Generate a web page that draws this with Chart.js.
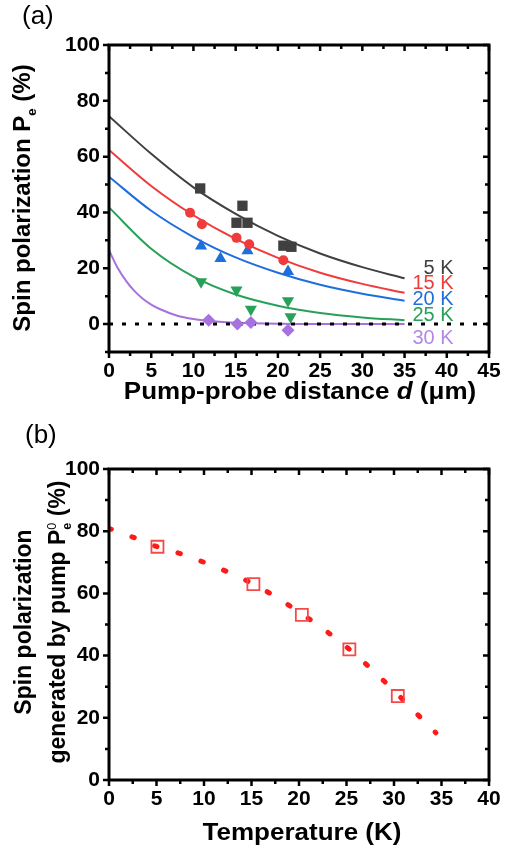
<!DOCTYPE html>
<html>
<head>
<meta charset="utf-8">
<script src="https://cdn.jsdelivr.net/npm/chart.js@4.4.1/dist/chart.umd.min.js"></script>
<style>
  html, body { margin: 0; padding: 0; background: #fff; }
  body { width: 515px; height: 851px; position: relative; overflow: hidden;
         font-family: "Liberation Sans", Arial, sans-serif; color: #000; }
  .wrap { position: absolute; left: 0; width: 515px; }
  .txt { position: absolute; white-space: nowrap; line-height: 1; }
  .title { font-weight: bold; font-size: 23px; }
  .rot { transform: translate(-50%, -50%) rotate(-90deg); text-align: center; }
  .hor { transform: translate(-50%, -50%) scaleX(1.13); }
  .sp { font-size: 0.55em; font-weight: normal; vertical-align: 0.75em; line-height: 0; }
  .sb { font-size: 0.55em; vertical-align: -0.45em; line-height: 0; margin-left: -0.56em; }
</style>
</head>
<body>
<div class="wrap" style="top:0;height:400px"><canvas id="chartA"></canvas></div>
<div class="wrap" style="top:400px;height:451px"><canvas id="chartB"></canvas></div>

<div class="txt" style="left:22px;top:2px;font-size:26px">(a)</div>
<div class="txt" style="left:25px;top:421px;font-size:26px">(b)</div>

<div class="txt title rot" style="left:22px;top:198px;font-size:24px">Spin polarization P<span class="sb" style="margin-left:0">e</span> (%)</div>
<div class="txt title hor" style="left:300px;top:391px">Pump-probe distance <i>d</i> (μm)</div>

<div class="txt title rot" style="left:40px;top:622px;line-height:34px">Spin polarization<br>generated by pump P<span class="sp">0</span><span class="sb">e</span> (%)</div>
<div class="txt title hor" style="left:302px;top:832px">Temperature (K)</div>

<script>
// ---------------- Panel (a) data ----------------
const d5K = [10.8, 15.8, 15.1, 16.4, 20.65, 21.6];
const p5K = [48.6, 42.4, 36.3, 36.3, 28.1, 27.7];
const d15K = [9.6, 11.0, 15.1, 16.6, 20.65];
const p15K = [39.9, 35.8, 30.9, 28.6, 22.9];
const d20K = [10.9, 13.2, 16.4, 21.2];
const p20K = [28.0, 23.5, 26.3, 18.8];
const d25K = [10.9, 15.1, 16.8, 21.2, 21.5];
const p25K = [15.2, 12.2, 5.3, 8.4, 2.6];
const d30K = [11.8, 15.2, 16.8, 21.2];
const p30K = [1.4, 0.0, 0.6, -2.2];

// fit curves
const fitDist = [0, 5, 10, 15, 20, 25, 30, 35];
const fit5K  = [74.5, 61.0, 49.0, 39.5, 31.6, 25.3, 20.4, 16.4];
const fit15K = [62.4, 49.5, 39.0, 30.5, 23.7, 18.4, 14.4, 11.2];
const fit20K = [52.8, 40.6, 31.2, 23.9, 18.4, 14.1, 10.9, 8.4];
const fit25K = [41.8, 27.0, 17.0, 10.6, 6.6, 4.0, 2.4, 1.4];
const fit30KDist = [0, 1, 2, 3, 4, 5, 6, 8, 10, 12, 15, 20, 25, 30, 35];
const fit30K = [26.5, 20.3, 15.6, 11.9, 9.1, 7.0, 5.4, 3.1, 1.8, 1.1, 0.5, 0.1, 0, 0, 0];

const zeroLineX = [0, 45];
const zeroLineY = [0, 0];

const tempLabels = ['5 K', '15 K', '20 K', '25 K', '30 K'];
const tempLabelValueY = [20.1, 14.6, 8.9, 3.2, -5.0];
const tempLabelValueX = 40.8;

const aXTicks = { min: 0, max: 45, step: 2.5, major: 5 };
const aYTicks = { min: -10, max: 100, step: 10, major: 20 };

// ---------------- Panel (b) data ----------------
const tempMeas = [5.1, 15.2, 20.3, 25.3, 30.4];
const polMeas  = [75.0, 63.0, 53.1, 42.0, 27.0];
const tempFit = [0, 2.5, 5, 7.5, 10, 12.5, 15, 17.5, 20, 22.5, 25, 27.5, 30, 32.5, 34.4];
const polFit  = [80.9, 78.1, 75.1, 72.8, 70.0, 66.9, 63.3, 59.0, 54.0, 48.7, 42.8, 36.0, 28.7, 21.0, 15.2];

const bXTicks = { min: 0, max: 40, step: 2.5, major: 5 };
const bYTicks = { min: 0, max: 100, step: 10, major: 20 };

// ---------------- colours ----------------
const C = {
  k: '#404040', r: '#ef3b3b', b: '#1f6ede', g: '#27a159', p: '#a672de', pLab: '#b18ae6',
  bRed: '#ff1a1a', bSq: '#f54a4a'
};
const labelColors = [C.k, C.r, C.b, C.g, C.pLab];

const FONT = "'Liberation Sans', Arial, sans-serif";

function pts(xs, ys) { return xs.map((x, i) => ({ x: x, y: ys[i] })); }
function isMult(v, m) { return Math.abs(v / m - Math.round(v / m)) < 1e-6; }

const frameTicks = {
  id: 'frameTicks',
  afterDraw(chart, args, opts) {
    const { ctx, chartArea: a, scales } = chart;
    const x = scales.x, y = scales.y;
    ctx.save();
    ctx.strokeStyle = '#000';
    ctx.lineCap = 'butt';
    ctx.lineWidth = 2.5;
    ctx.beginPath();
    x.ticks.forEach(t => {
      const px = x.getPixelForValue(t.value);
      const L = isMult(t.value, opts.xMajor) ? 6 : 4;
      ctx.moveTo(px, a.bottom); ctx.lineTo(px, a.bottom + L);
      ctx.moveTo(px, a.top); ctx.lineTo(px, a.top + L);
    });
    y.ticks.forEach(t => {
      const py = y.getPixelForValue(t.value);
      const L = isMult(t.value, opts.yMajor) ? 6 : 4;
      ctx.moveTo(a.left - L, py); ctx.lineTo(a.left, py);
      ctx.moveTo(a.right - L, py); ctx.lineTo(a.right, py);
    });
    ctx.stroke();
    ctx.lineWidth = 3;
    ctx.lineJoin = 'miter';
    ctx.strokeRect(a.left, a.top, a.right - a.left, a.bottom - a.top);
    ctx.restore();
  }
};

const curveLabels = {
  id: 'curveLabels',
  afterDatasetsDraw(chart) {
    const { ctx, scales: { x, y } } = chart;
    ctx.save();
    ctx.font = '20px ' + FONT;
    ctx.textAlign = 'right';
    ctx.textBaseline = 'middle';
    tempLabels.forEach((lab, i) => {
      ctx.fillStyle = labelColors[i];
      ctx.fillText(lab, x.getPixelForValue(tempLabelValueX), y.getPixelForValue(tempLabelValueY[i]));
    });
    ctx.restore();
  }
};

function axisOpts(t, isX, fitSize) {
  return {
    type: 'linear',
    min: t.min, max: t.max,
    grid: { display: false, drawTicks: false },
    border: { display: false },
    ticks: {
      stepSize: t.step,
      autoSkip: false,
      maxRotation: 0,
      padding: isX ? 7 : 9,
      color: '#000',
      font: { family: FONT, size: 21, weight: 'bold' },
      callback: (v) => (isMult(v, t.major) && v >= 0 ? String(v) : '')
    },
    afterFit: (s) => { if (isX) s.height = fitSize; else s.width = fitSize; }
  };
}

function scatterSet(xs, ys, color, style, radius, rotation) {
  return {
    type: 'scatter', data: pts(xs, ys), order: 0,
    pointStyle: style, pointRadius: radius, pointRotation: rotation || 0,
    pointBackgroundColor: color, pointBorderColor: color, pointBorderWidth: 0,
    showLine: false
  };
}
function lineSet(xs, ys, color, order, width, dash) {
  return {
    type: 'line', data: pts(xs, ys), order: order,
    borderColor: color, borderWidth: width, borderDash: dash || [],
    pointRadius: 0, fill: false, cubicInterpolationMode: 'monotone'
  };
}

const commonOpts = {
  responsive: true, maintainAspectRatio: false, animation: false, events: [],
  plugins: { legend: { display: false }, tooltip: { enabled: false } }
};

new Chart(document.getElementById('chartA'), {
  data: {
    datasets: [
      scatterSet(d5K, p5K, C.k, 'rect', 7.3),
      scatterSet(d15K, p15K, C.r, 'circle', 5),
      scatterSet(d20K, p20K, C.b, 'triangle', 7),
      scatterSet(d25K, p25K, C.g, 'triangle', 7, 180),
      scatterSet(d30K, p30K, C.p, 'rectRot', 6.5),
      Object.assign(lineSet(zeroLineX, zeroLineY, '#000', 1, 3, [4, 9]), { cubicInterpolationMode: 'default', tension: 0 }),
      lineSet(fitDist, fit5K, C.k, 2, 2),
      lineSet(fitDist, fit15K, C.r, 2, 2),
      lineSet(fitDist, fit20K, C.b, 2, 2),
      lineSet(fitDist, fit25K, C.g, 2, 2),
      lineSet(fit30KDist, fit30K, C.p, 2, 2)
    ]
  },
  options: Object.assign({}, commonOpts, {
    layout: { padding: { top: 45, right: 26, left: 0, bottom: 0 } },
    scales: { x: axisOpts(aXTicks, true, 48), y: axisOpts(aYTicks, false, 109) },
    plugins: Object.assign({}, commonOpts.plugins, { frameTicks: { xMajor: aXTicks.major, yMajor: aYTicks.major } })
  }),
  plugins: [frameTicks, curveLabels]
});

new Chart(document.getElementById('chartB'), {
  data: {
    datasets: [
      {
        type: 'scatter', data: pts(tempMeas, polMeas), order: 0,
        pointStyle: 'rect', pointRadius: 8.5,
        pointBackgroundColor: 'rgba(0,0,0,0)', pointBorderColor: C.bSq, pointBorderWidth: 1.8,
        showLine: false
      },
      Object.assign(lineSet(tempFit, polFit, C.bRed, 1, 5, [2.5, 21.9]), { borderCapStyle: 'round' })
    ]
  },
  options: Object.assign({}, commonOpts, {
    layout: { padding: { top: 69, right: 26, left: 0, bottom: 0 } },
    scales: { x: axisOpts(bXTicks, true, 71), y: axisOpts(bYTicks, false, 109) },
    plugins: Object.assign({}, commonOpts.plugins, { frameTicks: { xMajor: bXTicks.major, yMajor: bYTicks.major } })
  }),
  plugins: [frameTicks]
});
</script>
</body>
</html>
